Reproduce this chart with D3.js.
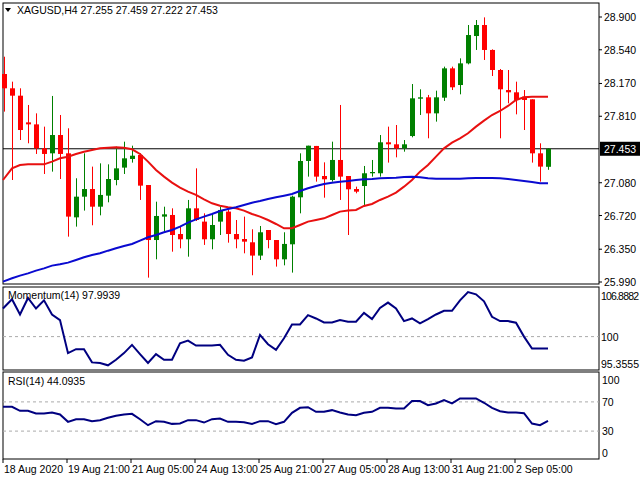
<!DOCTYPE html><html><head><meta charset="utf-8">
<script src="https://cdn.jsdelivr.net/npm/d3@7"></script>
<style>body{margin:0;background:#fff}text{font-family:"Liberation Sans",Arial,sans-serif;font-size:10.5px}</style></head><body>
<svg id="c" width="640" height="480"></svg>
<script>
const open=[28.274,28.117,28.036,27.743,27.721,27.458,27.403,27.604,27.403,26.700,26.927,27.011,26.817,26.938,27.110,27.246,27.341,27.385,27.055,26.451,26.708,26.726,26.517,26.459,26.799,26.653,26.459,26.653,26.763,26.517,26.462,26.426,26.280,26.561,26.451,26.239,26.404,26.920,27.319,27.484,27.154,27.110,27.330,27.154,27.011,27.044,27.184,27.184,27.524,27.502,27.458,27.593,28.003,28.018,27.842,28.014,28.336,28.153,28.391,28.691,28.812,28.538,28.318,28.098,28.073,28.025,27.996,27.403,27.255];
const high=[28.464,28.190,28.117,27.934,27.842,27.696,28.033,27.824,27.678,27.129,27.403,27.257,27.293,27.282,27.476,27.531,27.487,27.403,27.055,26.872,26.817,26.799,26.598,26.891,27.238,26.744,26.744,26.817,26.781,26.671,26.708,26.569,26.605,26.561,26.451,26.536,26.938,27.403,27.487,27.484,27.304,27.531,27.934,27.154,27.037,27.264,27.330,27.604,27.696,27.714,27.549,28.164,28.106,28.044,28.091,28.355,28.355,28.446,28.812,28.867,28.896,28.545,28.329,28.318,28.190,28.098,27.996,27.513,27.459];
const low=[27.861,27.110,27.549,27.513,27.396,27.176,27.202,27.121,26.488,26.598,26.774,26.613,26.722,26.865,27.052,27.176,27.301,26.891,26.038,26.239,26.543,26.323,26.360,26.268,26.660,26.397,26.349,26.506,26.422,26.360,26.305,26.064,26.232,26.360,26.159,26.173,26.093,26.744,27.147,27.092,26.916,27.092,26.891,26.506,26.964,26.836,27.147,27.147,27.301,27.359,27.421,27.579,27.824,27.568,27.751,27.978,28.098,28.051,28.380,28.538,28.428,28.252,27.568,27.952,27.831,27.659,27.301,27.092,27.222];
const close=[28.117,28.036,27.659,27.721,27.458,27.396,27.604,27.396,26.708,26.927,27.011,26.817,26.946,27.121,27.238,27.348,27.377,27.048,26.451,26.715,26.733,26.506,26.459,26.799,26.671,26.459,26.616,26.781,26.517,26.459,26.433,26.280,26.536,26.451,26.239,26.408,26.927,27.319,27.487,27.147,27.118,27.330,27.147,27.008,26.982,27.184,27.198,27.524,27.502,27.458,27.502,28.007,28.018,27.842,28.018,28.336,28.128,28.391,28.702,28.812,28.538,28.318,28.106,28.073,27.989,27.989,27.403,27.257,27.453];
const maRed=[27.110,27.238,27.275,27.282,27.282,27.282,27.312,27.348,27.366,27.396,27.421,27.440,27.458,27.465,27.469,27.465,27.447,27.396,27.312,27.220,27.147,27.081,27.026,26.982,26.946,26.898,26.854,26.828,26.810,26.799,26.774,26.737,26.708,26.671,26.627,26.580,26.580,26.616,26.653,26.671,26.689,26.726,26.763,26.774,26.781,26.825,26.847,26.891,26.927,26.971,27.037,27.110,27.202,27.275,27.367,27.458,27.520,27.568,27.623,27.696,27.762,27.824,27.868,27.923,27.989,28.018,28.025,28.025,28.025];
const maBlue=[25.994,26.031,26.060,26.085,26.115,26.140,26.170,26.184,26.203,26.232,26.261,26.287,26.305,26.334,26.360,26.386,26.408,26.444,26.481,26.506,26.536,26.561,26.598,26.642,26.678,26.708,26.737,26.770,26.792,26.810,26.836,26.861,26.880,26.902,26.920,26.938,26.957,26.989,27.019,27.044,27.066,27.081,27.092,27.099,27.110,27.118,27.121,27.129,27.132,27.136,27.143,27.147,27.140,27.129,27.125,27.125,27.125,27.125,27.129,27.132,27.132,27.132,27.129,27.121,27.110,27.099,27.088,27.074,27.074];
const momentum=[104.76,106.33,103.75,106.55,104.76,106.16,103.75,102.80,97.20,97.87,97.87,95.63,95.52,95.13,96.08,97.20,98.60,97.03,95.52,97.03,96.08,96.08,98.88,99.33,98.49,98.49,98.49,98.60,96.92,96.08,95.91,96.47,100.28,98.71,97.76,99.72,102.07,102.07,103.64,103.08,102.41,102.41,102.80,102.52,102.52,104.03,102.97,104.87,105.77,104.76,102.63,103.08,102.24,102.97,103.75,104.37,104.37,106.16,107.56,107.17,105.99,103.36,102.63,102.63,102.35,100.00,97.99,97.99,97.99];
const rsi=[63.3,63.3,57.8,57.8,54.1,54.1,55.5,52.8,42.7,46.3,46.3,43.6,45.0,48.2,50.9,52.8,53.7,46.3,38.1,43.6,42.7,39.9,40.4,45.0,45.0,41.7,46.3,47.2,42.7,42.7,42.2,39.9,43.6,43.6,39.4,42.7,55.0,61.9,62.8,56.4,56.4,58.7,55.5,52.8,51.8,55.0,56.4,61.9,61.9,61.0,61.0,71.1,71.1,65.6,67.9,72.5,67.9,74.8,74.8,74.8,68.8,61.9,57.3,55.5,55.5,54.6,40.4,38.1,44.09];
const priceTicks=[28.900,28.540,28.170,27.810,27.080,26.720,26.350,25.990];
const momTicks=[106.8882,100,95.3555];
const rsiTicks=[100,70,30,0];
const timeLabels=["18 Aug 2020","19 Aug 21:00","21 Aug 05:00","24 Aug 13:00","25 Aug 21:00","27 Aug 05:00","28 Aug 13:00","31 Aug 21:00","2 Sep 05:00"];
const labelBars=[0,8,16,24,32,40,48,56,64];
const lastPrice=27.453;

const svg=d3.select("#c");
const L=3,R=599;
const x=d3.scaleLinear().domain([0,68]).range([4,548]);
const y=d3.scaleLinear().domain([25.99,28.9]).range([282,17]);
const ym=d3.scaleLinear().domain([95.3555,106.8882]).range([364,296]);
const yr=d3.scaleLinear().domain([0,100]).range([453,380]);
const idx=d3.range(open.length);
[[3,284],[287,370],[372,459]].forEach(([a,b])=>svg.append("rect").attr("x",L).attr("y",a).attr("width",R-L).attr("height",b-a).attr("fill","none").attr("stroke","#000"));
svg.append("line").attr("x1",L).attr("x2",R).attr("y1",y(lastPrice)).attr("y2",y(lastPrice)).attr("stroke","#000");
const g=svg.append("g");
idx.forEach(i=>{const up=close[i]>=open[i],c=up?"#008000":"#ff0000";
 g.append("line").attr("x1",x(i)+0.5).attr("x2",x(i)+0.5).attr("y1",y(high[i])).attr("y2",y(low[i])).attr("stroke",c);
 const t=y(Math.max(open[i],close[i])),b=y(Math.min(open[i],close[i]));
 g.append("rect").attr("x",x(i)-2).attr("width",5).attr("y",t).attr("height",Math.max(1,b-t)).attr("fill",c);});
const ln=(arr,ys)=>d3.line().x((d,i)=>i===0?L:x(i)).y(d=>ys(d))(arr);
svg.append("path").attr("d",ln(maRed,y)).attr("fill","none").attr("stroke","#e81010").attr("stroke-width",2);
svg.append("path").attr("d",ln(maBlue,y)).attr("fill","none").attr("stroke","#0a0ad0").attr("stroke-width",2);
priceTicks.forEach(v=>{svg.append("line").attr("x1",R).attr("x2",R+3).attr("y1",y(v)).attr("y2",y(v)).attr("stroke","#000");
 svg.append("text").attr("x",604).attr("y",y(v)+4).text(v.toFixed(3));});
svg.append("rect").attr("x",600).attr("y",y(lastPrice)-7).attr("width",40).attr("height",14).attr("fill","#000");
svg.append("text").attr("x",604).attr("y",y(lastPrice)+4).attr("fill","#fff").text(lastPrice.toFixed(3));
svg.append("path").attr("d","M5,8 L11,8 L8,12 Z").attr("fill","#000");
svg.append("text").attr("x",17).attr("y",14).text("XAGUSD,H4  27.255 27.459 27.222 27.453");
svg.append("line").attr("x1",L).attr("x2",R).attr("y1",ym(100)).attr("y2",ym(100)).attr("stroke","#aaa").attr("stroke-dasharray","3,3");
svg.append("path").attr("d",ln(momentum,ym)).attr("fill","none").attr("stroke","#000080").attr("stroke-width",2);
svg.append("text").attr("x",8).attr("y",299).text("Momentum(14) 97.9939");
momTicks.forEach(v=>svg.append("text").attr("x",601).attr("y",ym(v)+4).attr("textLength",v>100.5&&v<110||v<96?38:null).text(String(v)));
[70,30].forEach(v=>svg.append("line").attr("x1",L).attr("x2",R).attr("y1",yr(v)).attr("y2",yr(v)).attr("stroke","#aaa").attr("stroke-dasharray","3,3"));
svg.append("path").attr("d",ln(rsi,yr)).attr("fill","none").attr("stroke","#000080").attr("stroke-width",2);
svg.append("text").attr("x",8).attr("y",385).text("RSI(14) 44.0935");
rsiTicks.forEach(v=>svg.append("text").attr("x",602).attr("y",yr(v)+4).text(String(v)));
labelBars.forEach((b,k)=>{const px=x(b)-1;svg.append("line").attr("x1",px).attr("x2",px).attr("y1",459).attr("y2",463).attr("stroke","#000");
 svg.append("text").attr("x",px+1).attr("y",473).text(timeLabels[k]);});
</script></body></html>
